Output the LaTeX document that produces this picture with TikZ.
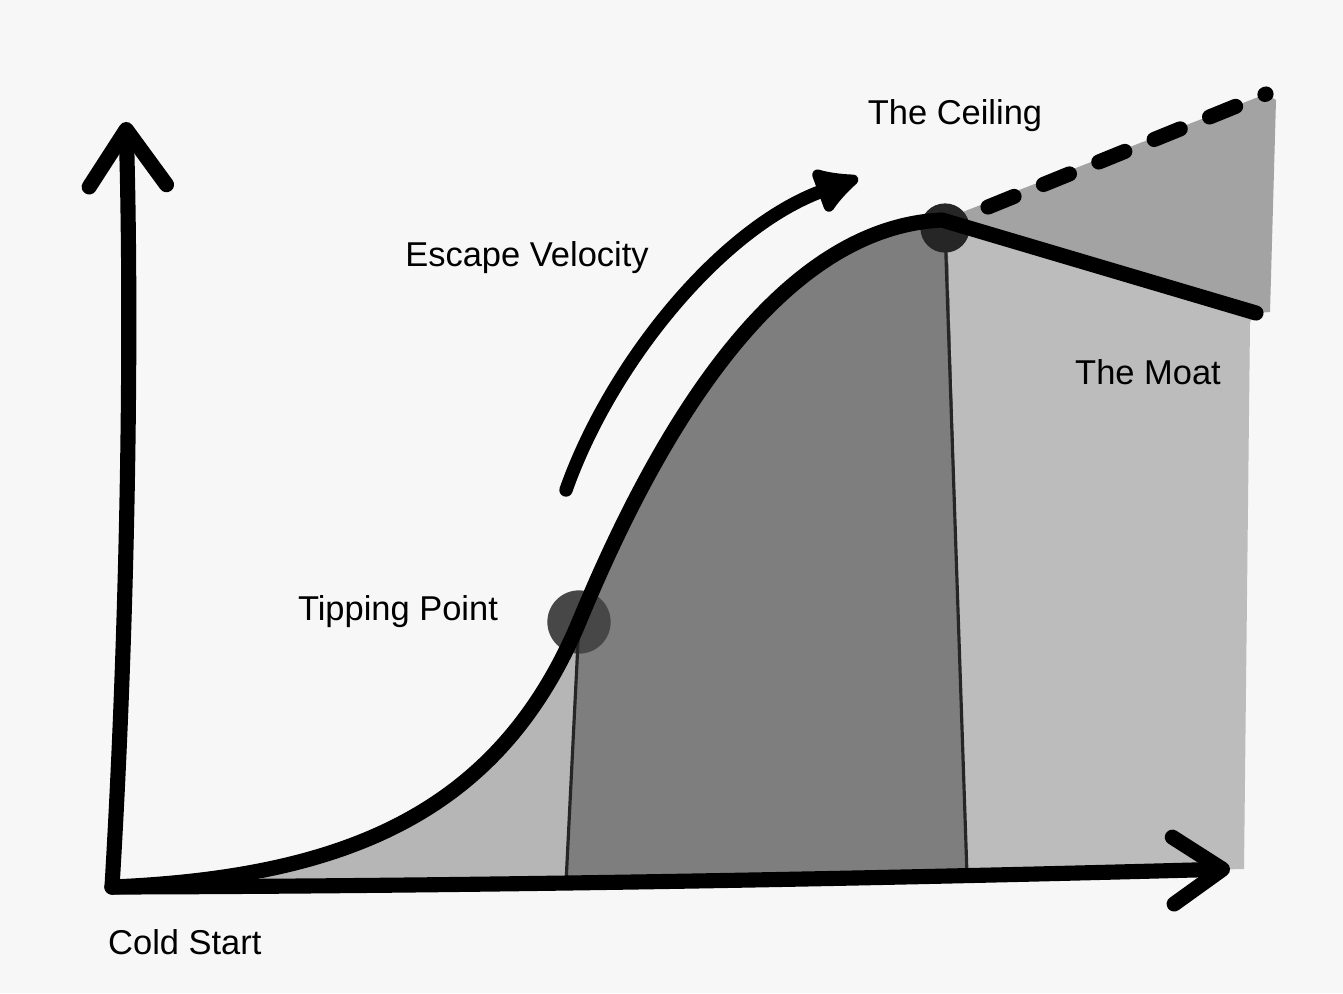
\documentclass[tikz,border=0pt]{standalone}
\usepackage{fontspec}
\setmainfont{Liberation Sans}
\usetikzlibrary{arrows.meta}
\definecolor{paper}{RGB}{247,247,247}
\definecolor{earlygrey}{RGB}{182,182,182}
\definecolor{growthgrey}{RGB}{126,126,126}
\definecolor{moatgrey}{RGB}{188,188,188}
\definecolor{ceilgrey}{RGB}{163,163,163}
\begin{document}
\begin{tikzpicture}[
    x=0.01cm, y=-0.01cm,
    every node/.style={font=\fontsize{9.8}{12}\selectfont, inner sep=1pt},
    stroke/.style={line width=4.3pt, line cap=round, line join=round},
    divider/.style={line width=0.9pt, black!85},
    dot/.style={circle, fill=black!72, inner sep=0pt},
]
\useasboundingbox (0,0) rectangle (1343,993);
\fill[paper] (0,0) rectangle (1343,993);

\coordinate (origin) at (112,887);
\coordinate (ytip) at (126,122);
\coordinate (xtip) at (1230,869);
\coordinate (moatend) at (1256,313);
\coordinate (ceilstart) at (988,207);
\coordinate (ceilend) at (1266,94);
\coordinate (escstart) at (566,490);
\coordinate (escend) at (858,178);

\fill[earlygrey] (origin) .. controls (350,877) and (500,810) .. (578,622) -- (566,883) -- cycle;
\fill[growthgrey] (578,622) .. controls (650,450) and (770,228) .. (942,220) -- (948,240) -- (967,875) -- (566,883) -- cycle;
\fill[moatgrey] (942,220) -- (moatend) -- (1250,322) -- (1244,869) -- (967,875) -- (948,240) -- cycle;
\fill[ceilgrey] (942,220) -- (ceilend) -- (1276,100) -- (1270,312) -- (moatend) -- cycle;

\node[dot, minimum size=18pt] (tipping point) at (579,622) {};
\node[dot, fill=black!85, minimum size=14pt] (peak) at (945,228) {};
\draw[divider] (tipping point.center) -- (566,883);
\draw[divider] (peak.center) -- (967,875);

\draw[stroke] (origin) .. controls (350,877) and (500,810) .. (tipping point.center)
    .. controls (650,450) and (770,228) .. (942,220) -- (moatend);
\draw[stroke, dash pattern=on 8pt off 9pt] (ceilstart) -- (ceilend);
\draw[stroke, line width=3.8pt, -{Latex[length=15pt,width=16pt,round]}] (escstart) .. controls (610,365) and (720,228) .. (escend);

\draw[stroke, -{Straight Barb[length=16pt,width=22pt,round]}] (origin) .. controls (128,620) and (132,330) .. (ytip);
\draw[stroke, -{Straight Barb[length=14pt,width=19pt,round]}] (origin) .. controls (500,886) and (900,878) .. (xtip);

\node (ceiling) at (955,116) {The Ceiling};
\node (escape) at (527,258) {Escape Velocity};
\node (moat) at (1148,372) {The Moat};
\node (tipping) at (398,612) {Tipping Point};
\node[anchor=west] (cold) at (104,942) {Cold Start};
\end{tikzpicture}
\end{document}
